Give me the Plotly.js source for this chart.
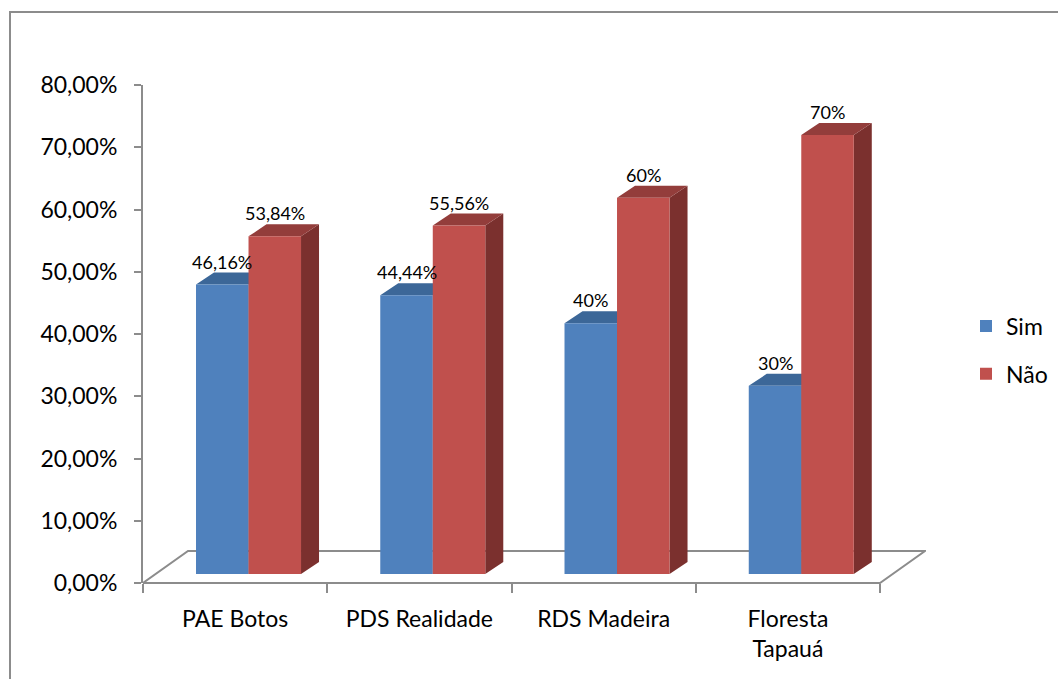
<!DOCTYPE html>
<html>
<head>
<meta charset="utf-8">
<script src="https://cdn.plot.ly/plotly-3.0.1.min.js"></script>
<style>
  html, body { margin: 0; padding: 0; background: #ffffff; }
  #chart { width: 1058px; height: 679px; }
</style>
</head>
<body>
<div id="chart"></div>
<script>
// Categories and series values (percent)
const categories = ['PAE Botos', 'PDS Realidade', 'RDS Madeira', 'Floresta<br>Tapauá'];
const seriesNames = ['Sim', 'Não'];
const simValues = [46.16, 44.44, 40, 30];
const naoValues = [53.84, 55.56, 60, 70];
const yTickVals = [0, 10, 20, 30, 40, 50, 60, 70, 80];
const yTickText = ['0,00%', '10,00%', '20,00%', '30,00%', '40,00%', '50,00%', '60,00%', '70,00%', '80,00%'];

// Styling
const FONT = 'Lato, "Open Sans", sans-serif';
const GRAY = '#8c8c8c';
const frontColors = ['#4f81bd', '#c0504d'];
const topColors = ['#3c6798', '#933d3b'];
const sideColors = ['#35597f', '#7b302e'];

// Geometry (axis units): x in category widths, y in percent
const W = 1058, H = 679;
const M = { l: 143, r: 132, t: 85, b: 96, autoexpand: false };
const plotW = W - M.l - M.r, plotH = H - M.t - M.b;
const catPx = (880 - 143) / 4;                 // width of a category on the front edge
const xMax = plotW / catPx;
const barPxPerUnit = 6.271;                     // bar plane vertical scale
const barLift = 9;                              // bar plane sits above the floor front edge
const yBarRange = [-barLift / barPxPerUnit, -barLift / barPxPerUnit + plotH / barPxPerUnit];
const barW = 0.285;                             // bar width in category units
const groupShift = 0.0727;                      // bar plane shifted into depth
const depthX = 18 / catPx, depthY = 12 / barPxPerUnit;   // bar top/side depth
const floorDX = 45 / catPx, floorDY = 32 / plotH;        // floor depth (x units / paper)

const allSeries = [simValues, naoValues];

function fmtPct(v) {
  return Number.isInteger(v) ? v + '%' : v.toFixed(2).replace('.', ',') + '%';
}

const traces = [];
const annotations = [];

// Percent value axis lives on its own subplot; this invisible trace anchors it
traces.push({
  type: 'scatter', mode: 'markers', x: [0], y: [0], xaxis: 'x', yaxis: 'y2',
  marker: { opacity: 0, size: 1 }, hoverinfo: 'skip', showlegend: false
});

allSeries.forEach((vals, s) => {
  const offset = s === 0 ? -barW : 0;
  const topX = [], topY = [], sideX = [], sideY = [];
  vals.forEach((v, i) => {
    const x0 = i + 0.5 + groupShift + offset;
    const x1 = x0 + barW;
    topX.push(x0, x1, x1 + depthX, x0 + depthX, x0, null);
    topY.push(v, v, v + depthY, v + depthY, v, null);
    sideX.push(x1, x1 + depthX, x1 + depthX, x1, x1, null);
    sideY.push(0, depthY, v + depthY, v, 0, null);
    annotations.push({
      x: x0 + barW / 2, y: v, xref: 'x', yref: 'y',
      text: fmtPct(v), showarrow: false,
      yanchor: 'bottom', yshift: 10,
      font: { family: FONT, size: 18, color: '#000000' }
    });
  });
  traces.push({
    type: 'scatter', mode: 'lines', x: sideX, y: sideY, xaxis: 'x', yaxis: 'y',
    fill: 'toself', fillcolor: sideColors[s], line: { width: 0 },
    hoverinfo: 'skip', showlegend: false
  });
  traces.push({
    type: 'scatter', mode: 'lines', x: topX, y: topY, xaxis: 'x', yaxis: 'y',
    fill: 'toself', fillcolor: topColors[s], line: { width: 0 },
    hoverinfo: 'skip', showlegend: false
  });
});

// Front faces of the bars (drawn on the overlaying x axis so they sit above the depth faces)
allSeries.forEach((vals, s) => {
  traces.push({
    type: 'bar', name: seriesNames[s], legendgroup: seriesNames[s],
    x: vals.map((v, i) => i + 0.5 + groupShift), y: vals,
    width: barW, offset: s === 0 ? -barW : 0,
    xaxis: 'x2', yaxis: 'y',
    marker: { color: frontColors[s], line: { width: 0 } },
    hovertemplate: '%{y}<extra>' + seriesNames[s] + '</extra>'
  });
});

// Floor of the 3D plot area and the outer chart frame
const px2paperX = p => (p - M.l) / plotW;
const px2paperY = p => (H - M.b - p) / plotH;
const shapes = [
  {
    type: 'path', xref: 'x', yref: 'paper', layer: 'below',
    path: `M0,0 L4,0 L${4 + floorDX},${floorDY} L${floorDX},${floorDY} Z`,
    line: { color: GRAY, width: 2 }
  },
  {
    type: 'rect', xref: 'paper', yref: 'paper', layer: 'below',
    x0: px2paperX(10), x1: px2paperX(W + 20),
    y0: px2paperY(H + 20), y1: px2paperY(12),
    line: { color: GRAY, width: 2 }
  }
];

const layout = {
  width: W, height: H,
  margin: M,
  paper_bgcolor: '#ffffff', plot_bgcolor: 'rgba(0,0,0,0)',
  font: { family: FONT, color: '#000000', size: 23 },
  barmode: 'overlay',
  showlegend: true,
  legend: {
    x: px2paperX(966), y: px2paperY(350), xanchor: 'left', yanchor: 'middle',
    traceorder: 'grouped', tracegroupgap: 15,
    font: { family: FONT, size: 23, color: '#000000' }
  },
  xaxis: {
    range: [0, xMax], showgrid: false, zeroline: false, showline: false,
    tickmode: 'array', tickvals: [0, 1, 2, 3, 4], ticks: 'outside', ticklen: 9,
    tickwidth: 2, tickcolor: GRAY, showticklabels: false, fixedrange: true
  },
  xaxis2: {
    overlaying: 'x', anchor: 'y', side: 'bottom',
    range: [0, xMax], showgrid: false, zeroline: false, showline: false,
    tickmode: 'array', tickvals: categories.map((c, i) => i + 0.5), ticktext: categories,
    ticks: '', ticklabelstandoff: 20,
    tickfont: { family: FONT, size: 23, color: '#000000' }, fixedrange: true
  },
  yaxis: {
    range: yBarRange, visible: false, showgrid: false, zeroline: false, fixedrange: true
  },
  yaxis2: {
    overlaying: 'y', anchor: 'x', side: 'left',
    range: [0, 80], showgrid: false, zeroline: false,
    showline: true, linecolor: GRAY, linewidth: 2,
    tickmode: 'array', tickvals: yTickVals, ticktext: yTickText,
    ticks: 'outside', ticklen: 7, tickwidth: 2, tickcolor: GRAY,
    ticklabelstandoff: 12,
    tickfont: { family: FONT, size: 23, color: '#000000' }, fixedrange: true
  },
  shapes: shapes,
  annotations: annotations
};

Plotly.newPlot('chart', traces, layout, { displayModeBar: false, staticPlot: true });
</script>
</body>
</html>
